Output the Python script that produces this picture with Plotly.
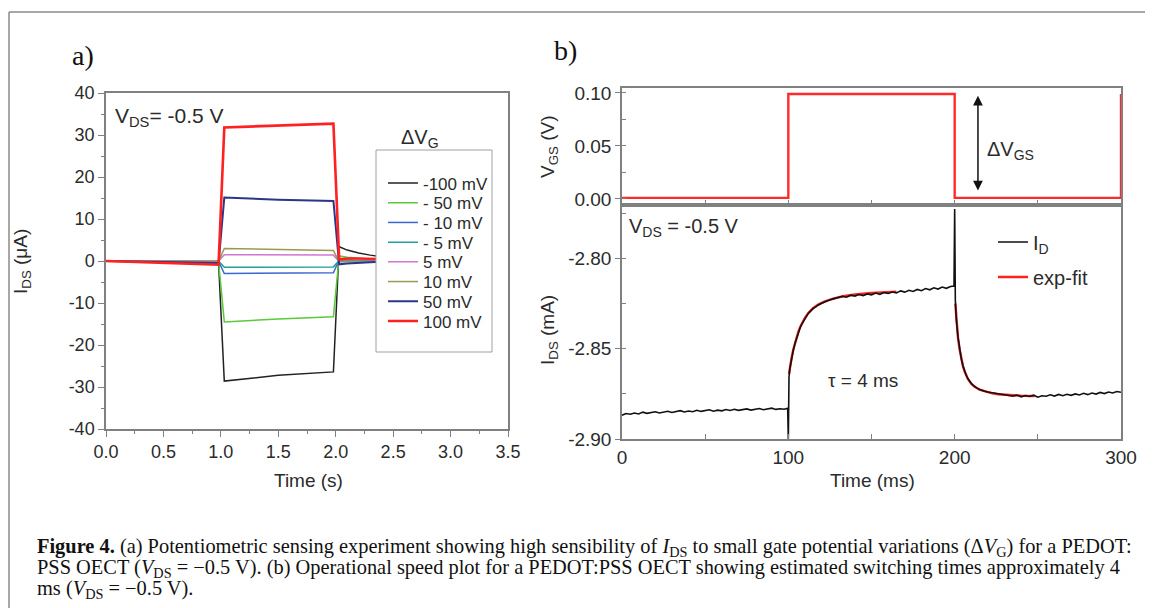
import plotly.graph_objects as go

# ---------------- data: panel a ----------------
t_a = [0.0, 0.5, 0.98, 1.03, 1.5, 1.98, 2.03, 2.1, 2.2, 2.3, 2.4, 2.6, 2.8, 3.0]
dvg_labels = ["-100 mV", "- 50 mV", "- 10 mV", "- 5 mV", "5 mV", "10 mV", "50 mV", "100 mV"]
i_m100 = [0.0, -0.2, -0.4, -28.6, -27.2, -26.4, 3.4, 2.6, 1.9, 1.4, 1.0, 0.6, 0.4, 0.3]
i_m50 = [0.0, -0.1, -0.2, -14.5, -13.8, -13.3, 1.2, 0.9, 0.6, 0.4, 0.3, 0.2, 0.1, 0.1]
i_m10 = [0.0, 0.0, -0.1, -3.0, -2.9, -2.8, 0.3, 0.2, 0.1, 0.1, 0.0, 0.0, 0.0, 0.0]
i_m5 = [0.0, 0.0, 0.0, -1.5, -1.4, -1.4, 0.1, 0.1, 0.0, 0.0, 0.0, 0.0, 0.0, 0.0]
i_p5 = [0.0, 0.0, 0.0, 1.5, 1.4, 1.4, -0.1, -0.1, 0.0, 0.0, 0.0, 0.0, 0.0, 0.0]
i_p10 = [0.0, -0.1, -0.1, 3.0, 2.8, 2.5, -0.2, -0.2, -0.1, -0.1, 0.0, 0.0, 0.0, 0.0]
i_p50 = [0.0, -0.2, -0.5, 15.1, 14.6, 14.3, -0.8, -0.6, -0.4, -0.3, -0.2, -0.1, -0.1, 0.0]
i_p100 = [0.0, -0.4, -0.9, 31.8, 32.3, 32.7, 0.4, 0.6, 0.6, 0.5, 0.4, 0.3, 0.2, 0.1]
series_a = [i_m100, i_m50, i_m10, i_m5, i_p5, i_p10, i_p50, i_p100]
colors_a = ["#222222", "#5cc83c", "#3a68d0", "#22a0a0", "#d276d2", "#9a9a52", "#2a3688", "#ff2020"]
widths_a = [1.5, 1.5, 1.5, 1.5, 1.5, 1.5, 2.0, 2.6]

# ---------------- data: panel b ----------------
t_vgs = [0, 100, 100, 200, 200, 300, 300]
v_gs = [0.001, 0.001, 0.099, 0.099, 0.001, 0.001, 0.099]

t_id = ([i * 2.5 for i in range(40)] + [99.6, 100.0, 100.4] +
        [101, 102, 103, 104, 105, 106, 107, 108, 109, 110, 111, 112, 113.5, 115, 116.5, 118,
         120, 122, 124, 126, 128, 130] +
        [132.5 + 2.5 * i for i in range(27)] + [199.6, 200.0, 200.4] +
        [201, 202, 203, 204, 205, 206, 207, 208, 209, 210, 211, 212, 213.5, 215, 216.5, 218,
         220, 222, 224, 226, 228, 230] +
        [232.5 + 2.5 * i for i in range(28)])
i_d = ([-2.8868, -2.8859, -2.8863, -2.8856, -2.8861, -2.8851, -2.8858, -2.8853, -2.8849, -2.8856,
        -2.8850, -2.8846, -2.8853, -2.8848, -2.8843, -2.8850, -2.8845, -2.8849, -2.8841, -2.8847,
        -2.8842, -2.8838, -2.8846, -2.8840, -2.8844, -2.8837, -2.8842, -2.8835, -2.8841, -2.8838,
        -2.8833, -2.8840, -2.8836, -2.8831, -2.8838, -2.8834, -2.8829, -2.8836, -2.8832, -2.8835] +
       [-2.8830, -2.9000, -2.8655] +
       [-2.8605, -2.8552, -2.8508, -2.8470, -2.8437, -2.8409, -2.8386, -2.8364, -2.8347, -2.8330,
        -2.8318, -2.8304, -2.8290, -2.8276, -2.8268, -2.8257, -2.8248, -2.8238, -2.8232, -2.8226,
        -2.8221, -2.8215] +
       [-2.8209, -2.8214, -2.8203, -2.8208, -2.8199, -2.8205, -2.8196, -2.8201, -2.8191, -2.8198,
        -2.8188, -2.8193, -2.8185, -2.8190, -2.8179, -2.8186, -2.8176, -2.8182, -2.8171, -2.8178,
        -2.8166, -2.8173, -2.8162, -2.8169, -2.8158, -2.8165, -2.8155] +
       [-2.8152, -2.7725, -2.8230] +
       [-2.8340, -2.8435, -2.8503, -2.8556, -2.8595, -2.8625, -2.8648, -2.8666, -2.8681, -2.8692,
        -2.8702, -2.8710, -2.8718, -2.8725, -2.8731, -2.8735, -2.8740, -2.8744, -2.8747, -2.8750,
        -2.8752, -2.8755] +
       [-2.8757, -2.8763, -2.8756, -2.8766, -2.8759, -2.8764, -2.8757, -2.8768, -2.8760, -2.8763,
        -2.8755, -2.8762, -2.8753, -2.8760, -2.8752, -2.8758, -2.8750, -2.8756, -2.8747, -2.8754,
        -2.8745, -2.8751, -2.8742, -2.8748, -2.8740, -2.8745, -2.8737, -2.8741])

t_fit = [100.4, 101, 102, 103, 104, 105, 106, 107, 108, 110, 112, 115, 118, 122, 127, 133, 140, 150, 165,
         None,
         200.4, 201, 202, 203, 204, 205, 206, 208, 210, 212, 215, 218, 222, 226, 232, 240, 248]
i_fit = [-2.8640, -2.8600, -2.8548, -2.8504, -2.8466, -2.8434, -2.8406, -2.8382, -2.8361, -2.8328,
         -2.8302, -2.8274, -2.8255, -2.8237, -2.8222, -2.8209, -2.8199, -2.8190, -2.8183,
         None,
         -2.8250, -2.8345, -2.8438, -2.8505, -2.8557, -2.8596, -2.8626, -2.8667, -2.8693, -2.8711,
         -2.8727, -2.8737, -2.8746, -2.8752, -2.8757, -2.8760, -2.8762]

# tick labels
xa_ticks = [0, 0.5, 1, 1.5, 2, 2.5, 3, 3.5]
xa_text = ["0.0", "0.5", "1.0", "1.5", "2.0", "2.5", "3.0", "3.5"]
ya_ticks = [-40, -30, -20, -10, 0, 10, 20, 30, 40]
ya_text = ["-40", "-30", "-20", "-10", "0", "10", "20", "30", "40"]
xb_ticks = [0, 100, 200, 300]
xb_text = ["0", "100", "200", "300"]
yb1_ticks = [0, 0.05, 0.10]
yb1_text = ["0.00", "0.05", "0.10"]
yb2_ticks = [-2.90, -2.85, -2.80]
yb2_text = ["-2.90", "-2.85", "-2.80"]

# ---------------- figure ----------------
# the page body adds an 8px margin, so the figure is drawn 8px in from the window corner
OFF = 8
W, H = 1153 - OFF, 608 - OFF
def px(x): return (x - OFF) / W
def py(y): return 1 - (y - OFF) / H

SANS = "Liberation Sans, Arial, sans-serif"
SERIF = "Liberation Serif, Times New Roman, serif"
TXT = "#2b2b2b"
AXC = "#808080"

fig = go.Figure()

legend_cfg = {}
for k, (lab, vals, col, w) in enumerate(zip(dvg_labels, series_a, colors_a, widths_a)):
    lname = "legend" if k == 0 else f"legend{k + 1}"
    fig.add_trace(go.Scatter(x=t_a, y=vals, mode="lines", name=lab,
                             line=dict(color=col, width=w), xaxis="x", yaxis="y",
                             legend=lname))
    legend_cfg[lname] = dict(x=px(383), xanchor="left", y=py(183.5 + 19.7 * k), yanchor="middle",
                             bgcolor="rgba(0,0,0,0)", borderwidth=0,
                             font=dict(family=SANS, size=17, color=TXT))

fig.add_trace(go.Scatter(x=t_vgs, y=v_gs, mode="lines", line=dict(color="#ff2a2a", width=2.4),
                         xaxis="x2", yaxis="y2", showlegend=False))
fig.add_trace(go.Scatter(x=t_fit, y=i_fit, mode="lines", name="exp-fit",
                         line=dict(color="#ff2020", width=2.4), xaxis="x3", yaxis="y3",
                         legend="legend10", connectgaps=False))
fig.add_trace(go.Scatter(x=t_id, y=i_d, mode="lines", name="I<sub>D</sub>",
                         line=dict(color="#111111", width=1.6), xaxis="x3", yaxis="y3",
                         legend="legend9"))
legend_cfg["legend9"] = dict(x=px(993), xanchor="left", y=py(242), yanchor="middle",
                             bgcolor="rgba(0,0,0,0)", borderwidth=0,
                             font=dict(family=SANS, size=20, color=TXT))
legend_cfg["legend10"] = dict(x=px(993), xanchor="left", y=py(277), yanchor="middle",
                              bgcolor="rgba(0,0,0,0)", borderwidth=0,
                              font=dict(family=SANS, size=20, color=TXT))

def ax_common(fs):
    return dict(showline=True, linecolor=AXC, linewidth=1.5, mirror=True, showgrid=False,
                zeroline=False, tickcolor=AXC, tickwidth=1.2, automargin=False,
                tickfont=dict(family=SANS, size=fs, color=TXT))

layout = dict(
    template="none",
    width=W, height=H, margin=dict(l=0, r=0, t=0, b=0, pad=0, autoexpand=False),
    paper_bgcolor="white", plot_bgcolor="white",
    xaxis=dict(domain=[px(106), px(508)], range=[0, 3.5], anchor="y",
               tickmode="array", tickvals=xa_ticks, ticktext=xa_text,
               ticks="outside", ticklen=6,
               minor=dict(dtick=0.25, tick0=0, ticks="outside", ticklen=3, tickcolor=AXC),
               **ax_common(18)),
    yaxis=dict(domain=[py(429), py(93)], range=[-40, 40], anchor="x",
               tickmode="array", tickvals=ya_ticks, ticktext=ya_text,
               ticks="outside", ticklen=6,
               minor=dict(dtick=5, tick0=0, ticks="outside", ticklen=3, tickcolor=AXC),
               **ax_common(18)),
    xaxis2=dict(domain=[px(622), px(1121)], range=[0, 300], anchor="y2",
                tickmode="array", tickvals=xb_ticks, showticklabels=False,
                ticks="inside", ticklen=5,
                minor=dict(dtick=50, tick0=0, ticks="inside", ticklen=5, tickcolor=AXC),
                **ax_common(19)),
    yaxis2=dict(domain=[py(205), py(88)], range=[-0.0057, 0.1047], anchor="x2",
                tickmode="array", tickvals=yb1_ticks, ticktext=yb1_text,
                ticks="outside", ticklen=5,
                minor=dict(dtick=0.025, tick0=0, ticks="inside", ticklen=4, tickcolor=AXC),
                **ax_common(19)),
    xaxis3=dict(domain=[px(622), px(1121)], range=[0, 300], anchor="y3",
                tickmode="array", tickvals=xb_ticks, ticktext=xb_text,
                ticks="inside", ticklen=5,
                minor=dict(dtick=50, tick0=0, ticks="inside", ticklen=5, tickcolor=AXC),
                **ax_common(19)),
    yaxis3=dict(domain=[py(439), py(205)], range=[-2.90, -2.7703], anchor="x3",
                tickmode="array", tickvals=yb2_ticks, ticktext=yb2_text,
                ticks="outside", ticklen=5,
                minor=dict(dtick=0.025, tick0=-2.9, ticks="inside", ticklen=4, tickcolor=AXC),
                **ax_common(19)),
    showlegend=True,
)
layout.update(legend_cfg)
fig.update_layout(**layout)

# legend box of panel a (white, covers the tails of the curves)
fig.add_shape(type="rect", xref="paper", yref="paper", x0=px(376), x1=px(492), y0=py(352), y1=py(150),
              fillcolor="white", line=dict(color="#a0a0a0", width=1), layer="above")
# outer frame
fig.add_shape(type="line", xref="paper", yref="paper", x0=px(9), x1=1.0, y0=py(12), y1=py(12),
              line=dict(color="#8a8a8a", width=1.5))
fig.add_shape(type="line", xref="paper", yref="paper", x0=px(9), x1=px(9), y0=py(12), y1=0,
              line=dict(color="#8a8a8a", width=1.5))

def ann(text, x, y, size=19, family=SANS, xanchor="center", angle=0, color=TXT):
    fig.add_annotation(text=text, x=x, y=y, xref="paper", yref="paper", showarrow=False,
                       xanchor=xanchor, yanchor="middle", textangle=angle,
                       font=dict(family=family, size=size, color=color))

ann("a)", px(70), py(55), size=28, family=SERIF, xanchor="left", color="#111")
ann("b)", px(552), py(50), size=28, family=SERIF, xanchor="left", color="#111")
ann("I<sub>DS</sub> (μA)", px(22), py(262), angle=-90)
ann("Time (s)", px(308), py(480))
ann("V<sub>DS</sub>= -0.5 V", px(113), py(117), size=21, xanchor="left")
ann("ΔV<sub>G</sub>", px(420), py(139), size=20)
ann("V<sub>GS</sub> (V)", px(549), py(147), angle=-90)
ann("I<sub>DS</sub> (mA)", px(549), py(330), angle=-90)
ann("Time (ms)", px(872), py(480))
ann("V<sub>DS</sub> = -0.5 V", px(627), py(227), size=20, xanchor="left")
ann("τ = 4 ms", px(826), py(380), size=19, xanchor="left")
fig.add_annotation(text="ΔV<sub>GS</sub>", x=218, y=0.046, xref="x2", yref="y2", showarrow=False,
                   xanchor="left", yanchor="middle", font=dict(family=SANS, size=20, color=TXT))
fig.add_annotation(text="", x=214, y=0.0975, ax=214, ay=0.0065, xref="x2", yref="y2",
                   axref="x2", ayref="y2", showarrow=True, arrowhead=2, startarrowhead=2,
                   arrowside="end+start", arrowsize=1.3, startarrowsize=1.3,
                   arrowwidth=1.5, arrowcolor="#111")

cap = [
    "<b>Figure 4.</b> (a) Potentiometric sensing experiment showing high sensibility of <i>I</i><sub>DS</sub> "
    "to small gate potential variations (Δ<i>V</i><sub>G</sub>) for a PEDOT:",
    "PSS OECT (<i>V</i><sub>DS</sub> = −0.5 V). (b) Operational speed plot for a PEDOT:PSS OECT showing "
    "estimated switching times approximately 4",
    "ms (<i>V</i><sub>DS</sub> = −0.5 V).",
]
for k, line in enumerate(cap):
    ann(line, px(35), py(547 + 21 * k), size=20.4, family=SERIF, xanchor="left", color="#111")

fig.write_html("out.html")
